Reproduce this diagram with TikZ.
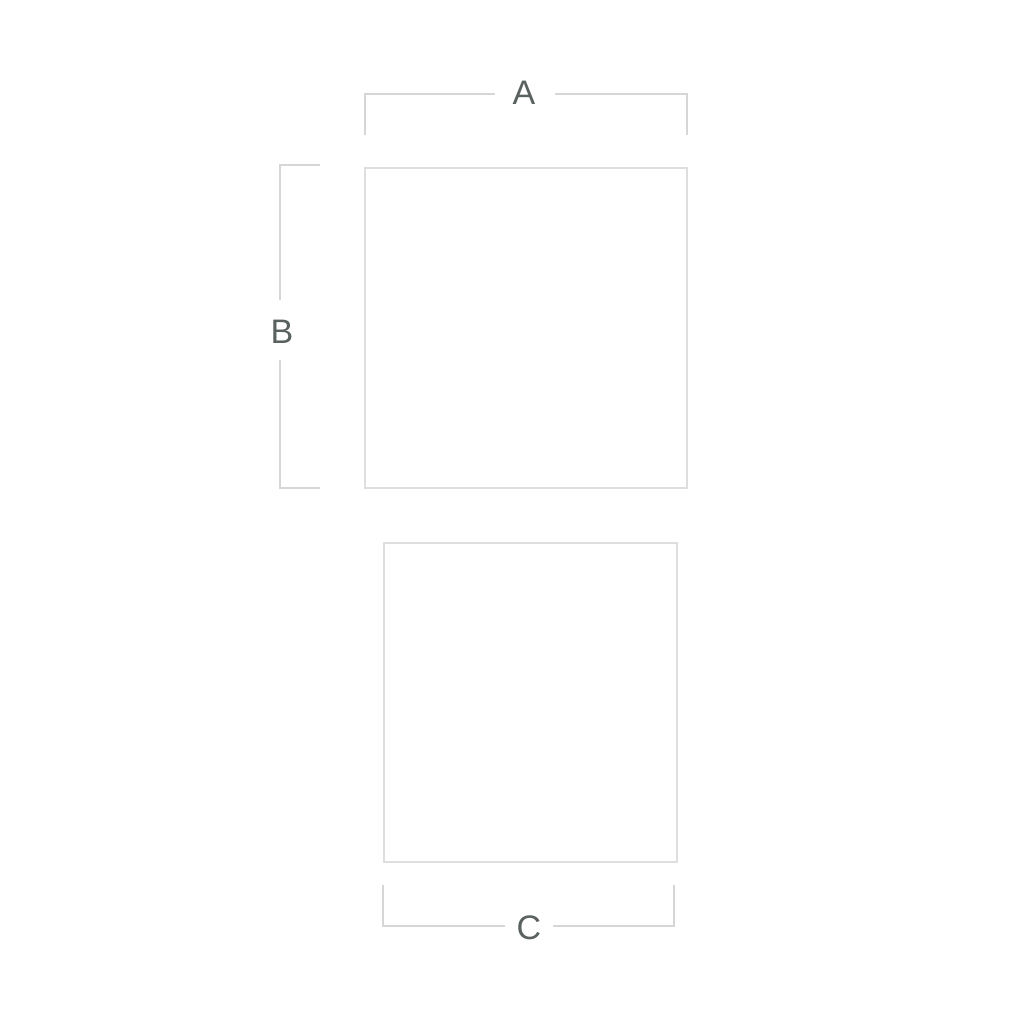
\documentclass[tikz,border=0pt]{standalone}
\usepackage{fontspec}
\setmainfont{Liberation Sans}
\definecolor{dimline}{HTML}{D6D6D6}
\definecolor{boxline}{HTML}{DEDEDE}
\definecolor{labeltext}{HTML}{5A6260}
\begin{document}
\begin{tikzpicture}[x=1pt,y=-1pt,
  dim/.style={draw=dimline,line width=1.6pt},
  panel/.style={draw=boxline,line width=1.6pt,fill=white},
  lbl/.style={text=labeltext,font=\fontsize{34}{34}\selectfont,inner sep=0pt}]
\useasboundingbox[fill=white] (0,0) rectangle (1024,1024);
% boxes
\draw[panel] (365,168) rectangle (687,488);
\draw[panel] (384,543) rectangle (677,862);
% labels
\node[lbl] (A) at (524,93) {A};
\node[lbl] (B) at (282,332) {B};
\node[lbl] (C) at (529,928) {C};
% dimension A
\coordinate (a1) at (365,135); \coordinate (a2) at (365,94);
\coordinate (a3) at (495,94); \coordinate (a4) at (555,94);
\coordinate (a5) at (687,94); \coordinate (a6) at (687,135);
\draw[dim] (a1) -- (a2) -- (a3);
\draw[dim] (a4) -- (a5) -- (a6);
% dimension B
\coordinate (b1) at (320,165); \coordinate (b2) at (280,165);
\coordinate (b3) at (280,300); \coordinate (b4) at (280,360);
\coordinate (b5) at (280,488); \coordinate (b6) at (320,488);
\draw[dim] (b1) -- (b2) -- (b3);
\draw[dim] (b4) -- (b5) -- (b6);
% dimension C
\coordinate (c1) at (383,885); \coordinate (c2) at (383,926);
\coordinate (c3) at (505,926); \coordinate (c4) at (553,926);
\coordinate (c5) at (674,926); \coordinate (c6) at (674,885);
\draw[dim] (c1) -- (c2) -- (c3);
\draw[dim] (c4) -- (c5) -- (c6);
\end{tikzpicture}
\end{document}
